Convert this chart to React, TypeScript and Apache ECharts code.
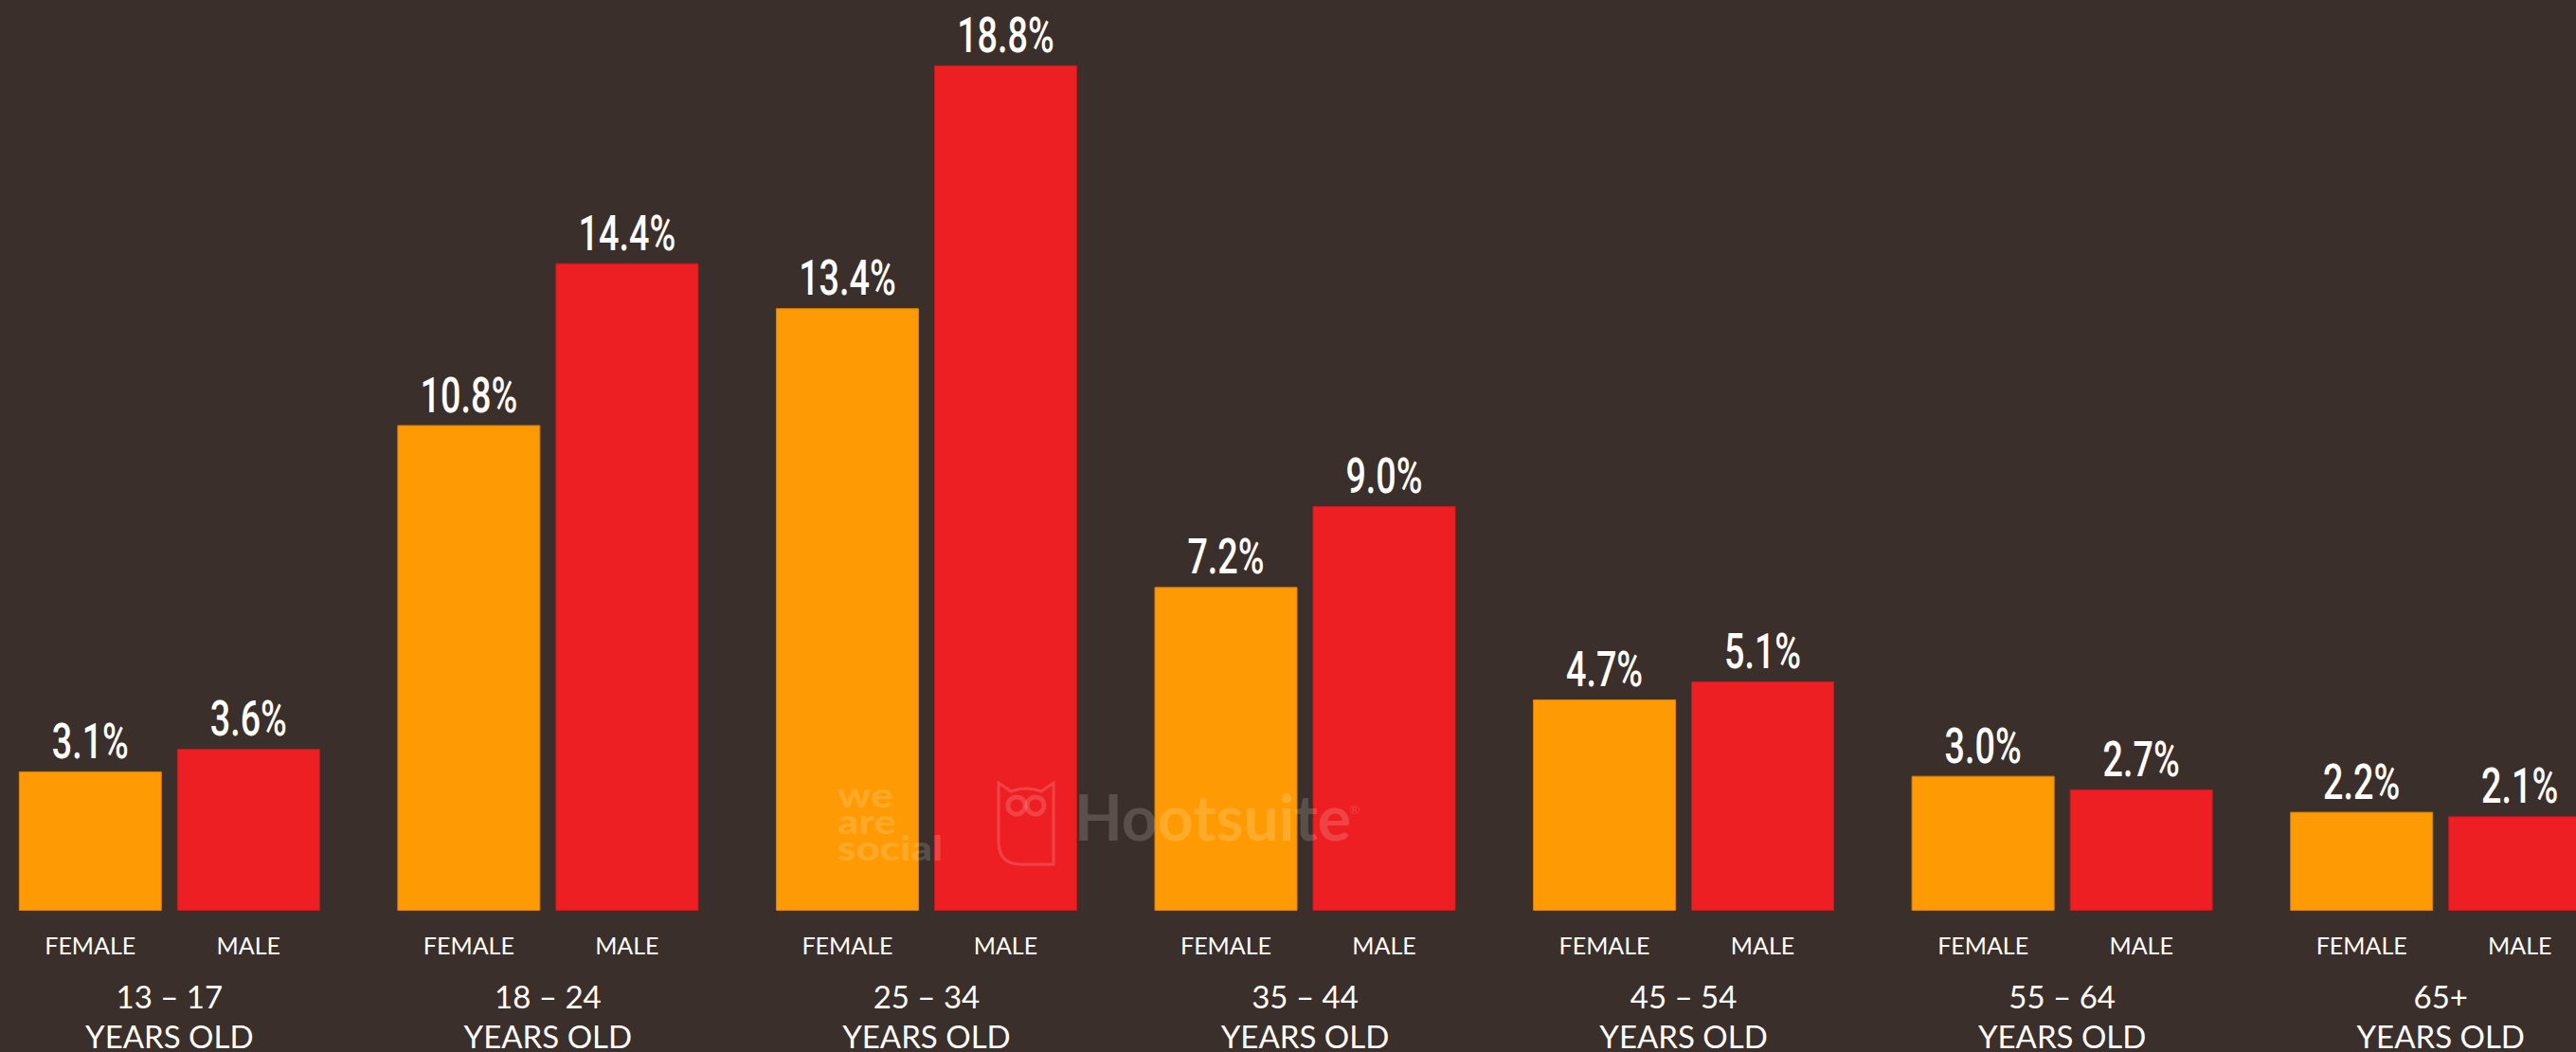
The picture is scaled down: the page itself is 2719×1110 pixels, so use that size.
import React, { useEffect, useRef } from "react";
import * as echarts from "echarts";

const categories = ["13 – 17", "18 – 24", "25 – 34", "35 – 44", "45 – 54", "55 – 64", "65+"];
const female = [3.1, 10.8, 13.4, 7.2, 4.7, 3.0, 2.2];
const male = [3.6, 14.4, 18.8, 9.0, 5.1, 2.7, 2.1];
const genderLabels = ["FEMALE", "MALE"];
const ageSuffix = "YEARS OLD";

const BG = "#3a2f2a";
const ORANGE = "#fe9a03";
const RED = "#ee1f23";
const WM = "rgba(255,255,255,0.16)";
const BAR_W = 151;
const BAR_GAP_PX = 16;
const LABEL_FONT = "500 51px Roboto, 'Open Sans', sans-serif";

const owlPath = "M0,0 L13,9 Q29,3 45,9 L58,0 L58,86 L24,86 Q0,86 0,62 Z";

let registered = false;

function labelSeries(values: number[], side: number) {
  const offset = (side * (BAR_W + BAR_GAP_PX)) / 2;
  return {
    type: "custom",
    z: 10,
    silent: true,
    data: values.map((v, i) => [i, v]),
    renderItem: (_params: any, api: any) => {
      const v = api.value(1);
      const pt = api.coord([api.value(0), v]);
      return {
        type: "text",
        x: pt[0] + offset,
        y: pt[1] - 6,
        scaleX: 0.74,
        style: {
          text: `${Number(v).toFixed(1)}%`,
          fill: "#ffffff",
          font: LABEL_FONT,
          align: "center",
          verticalAlign: "bottom",
        },
      };
    },
  };
}

const wmText = (text: string, y: number) => ({
  type: "text",
  x: 884,
  y,
  z: 100,
  scaleX: 1.22,
  style: { text, fill: WM, font: "900 36px Lato, 'Noto Sans', sans-serif", verticalAlign: "top" },
});

export default function App() {
  const ref = useRef<HTMLDivElement>(null);
  useEffect(() => {
    if (!ref.current) return;
    if (!registered) {
      echarts.graphic.registerShape("owl", echarts.graphic.extendPath(owlPath, {}));
      registered = true;
    }
    const chart = echarts.init(ref.current, null, { renderer: "svg" });
    chart.setOption({
      animation: false,
      backgroundColor: BG,
      grid: { left: -21, top: 12, width: 2797, bottom: 149, containLabel: false, outerBoundsMode: "none" },
      xAxis: {
        type: "category",
        data: categories,
        axisLine: { show: false },
        axisTick: { show: false },
        axisLabel: {
          interval: 0,
          margin: 3,
          hideOverlap: false,
          formatter: (v: string) =>
            `{g|${genderLabels[0]}}{g|${genderLabels[1]}}\n{a|${v}}\n{a|${ageSuffix}}`,
          rich: {
            g: {
              width: 167,
              align: "center",
              fontSize: 25,
              lineHeight: 66,
              color: "#ffffff",
              fontFamily: "Lato, 'Noto Sans', sans-serif",
            },
            a: {
              align: "center",
              fontSize: 33,
              lineHeight: 42,
              color: "#ffffff",
              fontFamily: "Lato, 'Noto Sans', sans-serif",
            },
          },
        },
      },
      yAxis: { type: "value", min: 0, max: 20, show: false, splitLine: { show: false } },
      series: [
        {
          name: "Female",
          type: "bar",
          data: female,
          barWidth: BAR_W,
          barGap: "10.6%",
          itemStyle: { color: ORANGE, borderColor: "#d98306", borderWidth: 1 },
        },
        {
          name: "Male",
          type: "bar",
          data: male,
          barWidth: BAR_W,
          barGap: "10.6%",
          itemStyle: { color: RED, borderColor: "#c9191d", borderWidth: 1 },
        },
        labelSeries(female, -1),
        labelSeries(male, 1),
      ],
      graphic: [
        wmText("we", 820),
        wmText("are", 848),
        wmText("social", 876),
        {
          type: "owl",
          x: 1054,
          y: 826,
          z: 100,
          style: { fill: "none", stroke: WM, lineWidth: 3 },
        },
        { type: "circle", z: 100, shape: { cx: 1073, cy: 850, r: 9 }, style: { fill: "none", stroke: WM, lineWidth: 5 } },
        { type: "circle", z: 100, shape: { cx: 1093, cy: 850, r: 9 }, style: { fill: "none", stroke: WM, lineWidth: 5 } },
        {
          type: "text",
          left: 1134,
          top: 828,
          z: 100,
          style: { text: "Hootsuite", fill: WM, font: "bold 66px Lato, 'Noto Sans', sans-serif" },
        },
        {
          type: "text",
          left: 1424,
          top: 846,
          z: 100,
          style: { text: "®", fill: WM, font: "14px Lato, sans-serif" },
        },
      ],
    });
    return () => chart.dispose();
  }, []);
  return (
    <div ref={ref} style={{ position: "absolute", left: 0, top: 0, width: 2719, height: 1110 }} />
  );
}
